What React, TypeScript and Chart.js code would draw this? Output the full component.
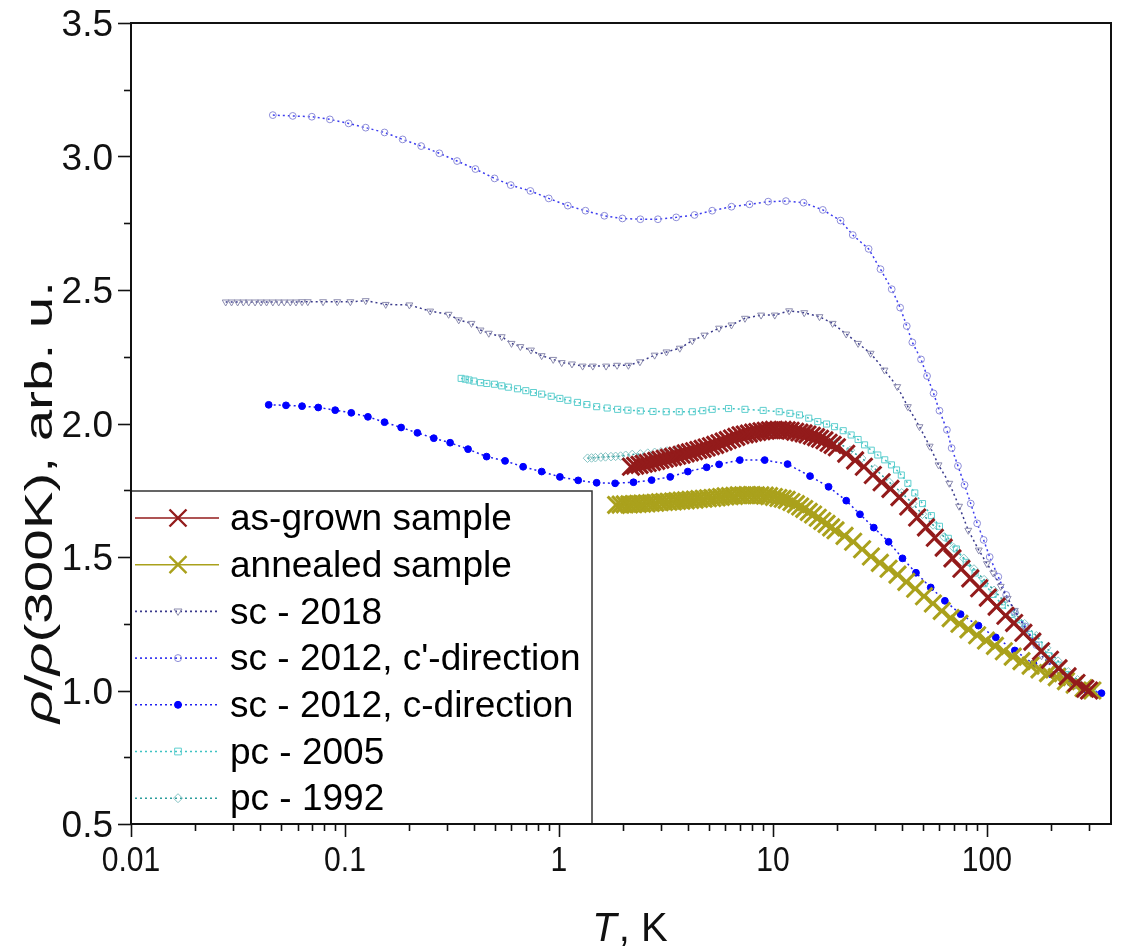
import React, { useEffect, useRef } from 'react';
import { Chart, registerables } from 'chart.js';

Chart.register(...registerables);

// ---------- axis ticks ----------
const xTickValues = [0.01, 0.1, 1, 10, 100];
const xTickLabels = ['0.01', '0.1', '1', '10', '100'];
const yTickValues = [0.5, 1.0, 1.5, 2.0, 2.5, 3.0, 3.5];
const yTickLabels = ['0.5', '1.0', '1.5', '2.0', '2.5', '3.0', '3.5'];

// ---------- series: as-grown sample ----------
const asGrownT = [2.17, 2.27, 2.38, 2.49, 2.6, 2.72, 2.85, 2.98, 3.12, 3.26, 3.41, 3.57, 3.74, 3.91, 4.09, 4.28, 4.48, 4.69, 4.9, 5.13, 5.37, 5.62, 5.88, 6.15, 6.44, 6.74, 7.05, 7.38, 7.72, 8.08, 8.45, 8.84, 9.25, 9.68, 10.1, 10.6, 11.1, 11.6, 12.1, 12.7, 13.3, 13.9, 14.5, 15.2, 15.9, 16.6, 17.4, 18.2, 19.0, 19.9, 22, 24.2, 26.6, 29.3, 32.2, 35.4, 39, 42.9, 47.2, 51.9, 57.1, 62.8, 69, 76, 83.6, 92, 101, 111, 122, 134, 148, 163, 179, 197, 216, 238, 262, 288, 300];
const asGrownRho = [1.838, 1.842, 1.845, 1.849, 1.852, 1.856, 1.86, 1.864, 1.868, 1.872, 1.875, 1.879, 1.883, 1.888, 1.892, 1.896, 1.901, 1.905, 1.91, 1.915, 1.92, 1.926, 1.932, 1.938, 1.944, 1.95, 1.956, 1.959, 1.962, 1.966, 1.968, 1.971, 1.973, 1.975, 1.976, 1.976, 1.976, 1.975, 1.973, 1.969, 1.966, 1.963, 1.959, 1.954, 1.949, 1.943, 1.937, 1.928, 1.92, 1.911, 1.887, 1.862, 1.838, 1.807, 1.78, 1.755, 1.724, 1.689, 1.648, 1.611, 1.572, 1.535, 1.495, 1.456, 1.42, 1.383, 1.348, 1.314, 1.28, 1.253, 1.216, 1.183, 1.147, 1.115, 1.083, 1.053, 1.028, 1.007, 1.0];

// ---------- series: annealed sample ----------
const annealedT = [1.85, 1.94, 2.03, 2.13, 2.23, 2.34, 2.45, 2.57, 2.69, 2.82, 2.96, 3.1, 3.25, 3.41, 3.57, 3.74, 3.92, 4.11, 4.31, 4.52, 4.74, 4.97, 5.21, 5.46, 5.72, 6.0, 6.29, 6.59, 6.91, 7.24, 7.59, 7.96, 8.34, 8.74, 9.16, 9.6, 10.1, 10.6, 11.1, 11.6, 12.2, 12.8, 13.4, 14.0, 14.7, 15.4, 16.2, 17.0, 17.8, 18.7, 19.6, 21.6, 23.7, 26.1, 28.7, 31.6, 34.7, 38.2, 42, 46.2, 50.8, 55.9, 61.5, 67.7, 74.4, 81.9, 90, 99, 109, 120, 132, 145, 160, 176, 193, 212, 234, 257, 283, 311];
const annealedRho = [1.695, 1.696, 1.697, 1.697, 1.698, 1.699, 1.7, 1.701, 1.702, 1.703, 1.705, 1.706, 1.707, 1.708, 1.71, 1.711, 1.712, 1.714, 1.715, 1.717, 1.718, 1.72, 1.721, 1.723, 1.725, 1.727, 1.728, 1.729, 1.731, 1.731, 1.732, 1.732, 1.731, 1.731, 1.73, 1.728, 1.725, 1.721, 1.718, 1.714, 1.706, 1.698, 1.689, 1.68, 1.669, 1.659, 1.647, 1.635, 1.624, 1.611, 1.6, 1.579, 1.557, 1.529, 1.502, 1.478, 1.456, 1.434, 1.407, 1.381, 1.353, 1.326, 1.298, 1.271, 1.25, 1.229, 1.207, 1.187, 1.167, 1.147, 1.127, 1.11, 1.093, 1.079, 1.065, 1.05, 1.035, 1.022, 1.009, 1.0];

// ---------- series: sc - 2018 ----------
const sc2018T = [0.0277, 0.0295, 0.0315, 0.0335, 0.0355, 0.038, 0.0405, 0.043, 0.046, 0.049, 0.052, 0.0555, 0.059, 0.063, 0.067, 0.079, 0.092, 0.106, 0.125, 0.155, 0.2, 0.25, 0.305, 0.34, 0.39, 0.43, 0.47, 0.54, 0.6, 0.66, 0.74, 0.83, 0.94, 1.03, 1.15, 1.29, 1.44, 1.66, 1.87, 2.11, 2.39, 2.8, 3.18, 3.67, 4.2, 4.78, 5.6, 6.4, 7.4, 8.8, 10.2, 11.9, 14, 16.5, 19, 22, 25, 28.6, 33.2, 38.1, 42.7, 48.4, 54, 59.4, 66.7, 74.1, 81.8, 91.6, 100, 107, 116, 125, 135, 153, 180, 220, 260, 300];
const sc2018Rho = [2.455, 2.455, 2.455, 2.455, 2.455, 2.455, 2.455, 2.455, 2.455, 2.455, 2.455, 2.455, 2.455, 2.456, 2.456, 2.456, 2.456, 2.456, 2.46, 2.446, 2.444, 2.421, 2.409, 2.388, 2.375, 2.35, 2.338, 2.325, 2.3, 2.288, 2.275, 2.254, 2.24, 2.228, 2.223, 2.215, 2.215, 2.215, 2.218, 2.218, 2.231, 2.256, 2.268, 2.282, 2.31, 2.331, 2.357, 2.369, 2.394, 2.406, 2.406, 2.422, 2.415, 2.4, 2.375, 2.335, 2.3, 2.263, 2.2, 2.138, 2.063, 1.988, 1.915, 1.845, 1.776, 1.69, 1.6, 1.526, 1.475, 1.44, 1.39, 1.345, 1.3, 1.225, 1.13, 1.06, 1.02, 1.0];

// ---------- series: sc - 2012, c'-direction ----------
const sc2012cpT = [0.046, 0.057, 0.07, 0.085, 0.104, 0.125, 0.153, 0.186, 0.227, 0.276, 0.334, 0.407, 0.5, 0.595, 0.735, 0.896, 1.1, 1.33, 1.63, 1.98, 2.4, 2.9, 3.53, 4.3, 5.2, 6.4, 7.77, 9.5, 11.5, 13.9, 17.1, 20.7, 23.6, 28.0, 31.8, 35.9, 39.3, 42.2, 44.8, 49.2, 52.5, 56.3, 60, 65, 68.4, 73.2, 78.6, 84, 90, 96.5, 103, 113, 123, 135, 151, 170, 195, 225, 260, 300];
const sc2012cpRho = [3.155, 3.152, 3.149, 3.139, 3.124, 3.108, 3.09, 3.064, 3.039, 3.012, 2.983, 2.953, 2.918, 2.893, 2.871, 2.843, 2.816, 2.797, 2.778, 2.768, 2.765, 2.765, 2.772, 2.781, 2.797, 2.812, 2.821, 2.831, 2.833, 2.827, 2.8, 2.76, 2.706, 2.654, 2.578, 2.503, 2.434, 2.365, 2.304, 2.24, 2.178, 2.113, 2.048, 1.976, 1.908, 1.841, 1.77, 1.7, 1.626, 1.564, 1.5, 1.426, 1.358, 1.295, 1.24, 1.17, 1.11, 1.06, 1.025, 1.0];

// ---------- series: sc - 2012, c-direction ----------
const sc2012cT = [0.044, 0.053, 0.063, 0.075, 0.09, 0.107, 0.128, 0.153, 0.183, 0.218, 0.26, 0.31, 0.376, 0.459, 0.56, 0.68, 0.83, 1.01, 1.23, 1.5, 1.83, 2.23, 2.71, 3.31, 4.0, 4.9, 5.6, 7.0, 9.15, 11.7, 14.9, 18.2, 22.0, 25.5, 29.6, 34.7, 40.3, 46.6, 54.6, 63.6, 75.3, 91.3, 110, 135, 165, 200, 245, 290, 343];
const sc2012cRho = [2.07, 2.068, 2.065, 2.06, 2.05, 2.04, 2.025, 2.005, 1.985, 1.965, 1.945, 1.928, 1.904, 1.876, 1.86, 1.838, 1.82, 1.8, 1.787, 1.778, 1.776, 1.78, 1.788, 1.8, 1.82, 1.836, 1.847, 1.863, 1.863, 1.848, 1.803, 1.763, 1.711, 1.66, 1.61, 1.557, 1.495, 1.441, 1.386, 1.336, 1.286, 1.243, 1.199, 1.15, 1.1, 1.06, 1.03, 1.005, 0.99];

// ---------- series: pc - 2005 ----------
const pc2005T = [0.349, 0.365, 0.38, 0.4, 0.43, 0.46, 0.5, 0.54, 0.58, 0.64, 0.7, 0.76, 0.83, 0.92, 1.01, 1.1, 1.22, 1.35, 1.5, 1.68, 1.88, 2.1, 2.4, 2.75, 3.17, 3.65, 4.2, 4.7, 5.2, 6.2, 7.4, 9, 10.7, 12, 13.3, 14.7, 16.2, 17.8, 19.4, 21.3, 23.2, 25, 26.8, 28.8, 30.9, 33.3, 35.8, 37.8, 39.8, 42.7, 46, 50, 55, 60, 66, 72, 80, 88, 97, 107, 118, 130, 143, 158, 175, 195, 215, 240, 265, 290, 310];
const pc2005Rho = [2.169, 2.166, 2.163, 2.159, 2.153, 2.15, 2.147, 2.141, 2.136, 2.13, 2.123, 2.116, 2.11, 2.102, 2.094, 2.087, 2.079, 2.071, 2.063, 2.058, 2.053, 2.05, 2.047, 2.045, 2.044, 2.044, 2.044, 2.048, 2.053, 2.056, 2.053, 2.049, 2.044, 2.038, 2.032, 2.02, 2.007, 1.998, 1.988, 1.973, 1.957, 1.94, 1.92, 1.9, 1.882, 1.864, 1.845, 1.826, 1.807, 1.776, 1.74, 1.7, 1.655, 1.615, 1.57, 1.53, 1.48, 1.44, 1.4, 1.36, 1.32, 1.285, 1.25, 1.21, 1.17, 1.13, 1.095, 1.06, 1.03, 1.01, 1.0];

// ---------- series: pc - 1992 ----------
const pc1992T = [1.36, 1.42, 1.48, 1.57, 1.65, 1.75, 1.84, 1.94, 2.05, 2.2, 2.4, 2.6, 2.8, 3.0, 3.2, 3.5, 3.8, 4.2, 4.6, 5.2, 6, 7, 8, 9, 10, 11.5, 13, 15, 17, 20, 23, 26, 30, 35, 40, 45, 50, 56, 63, 70, 78, 87, 97, 108, 120, 135, 150, 170, 190, 215, 240, 265, 290, 310];
const pc1992Rho = [1.87, 1.871, 1.872, 1.874, 1.875, 1.876, 1.877, 1.878, 1.881, 1.884, 1.886, 1.889, 1.892, 1.894, 1.897, 1.9, 1.903, 1.907, 1.911, 1.92, 1.935, 1.95, 1.96, 1.966, 1.97, 1.972, 1.97, 1.965, 1.952, 1.93, 1.9, 1.87, 1.83, 1.78, 1.74, 1.7, 1.66, 1.62, 1.575, 1.535, 1.495, 1.455, 1.415, 1.375, 1.335, 1.29, 1.25, 1.205, 1.16, 1.11, 1.07, 1.04, 1.015, 1.0];

const legendLabels = ['as-grown sample', 'annealed sample', 'sc - 2018', "sc - 2012, c'-direction", 'sc - 2012, c-direction', 'pc - 2005', 'pc - 1992'];

const FONT = "'Liberation Sans', Arial, Helvetica, sans-serif";

type Marker = 'crossRot' | 'circle' | 'triangleDown' | 'rect' | 'rectRot';

interface SeriesStyle {
  marker: Marker;
  lineColor: string;
  pointColor: string;
  fill: string;
  dash: number[];
  legendR: number;
  legendLW: number;
}

const styles: SeriesStyle[] = [
  { marker: 'crossRot', lineColor: '#931b1b', pointColor: '#931b1b', fill: 'transparent', dash: [], legendR: 12, legendLW: 2.4 },
  { marker: 'crossRot', lineColor: '#aaa11c', pointColor: '#aaa11c', fill: 'transparent', dash: [], legendR: 12, legendLW: 2.4 },
  { marker: 'triangleDown', lineColor: '#3a3a8c', pointColor: '#8c8cae', fill: 'transparent', dash: [2, 3], legendR: 4, legendLW: 1 },
  { marker: 'circle', lineColor: '#3c3cf0', pointColor: '#8e8ed8', fill: 'transparent', dash: [2, 3], legendR: 3.5, legendLW: 1 },
  { marker: 'circle', lineColor: '#2020f0', pointColor: '#0000ff', fill: '#0000ff', dash: [2, 3], legendR: 3.5, legendLW: 1 },
  { marker: 'rect', lineColor: '#3fc3c3', pointColor: '#5fcfcf', fill: 'transparent', dash: [2, 3], legendR: 4.5, legendLW: 1 },
  { marker: 'rectRot', lineColor: '#2c9c9c', pointColor: '#86c4c4', fill: 'transparent', dash: [2, 3], legendR: 4.5, legendLW: 1 },
];

function drawMarker(ctx: CanvasRenderingContext2D, m: Marker, x: number, y: number, r: number, stroke: string, fill: string, lw: number) {
  ctx.save();
  ctx.setLineDash([]);
  ctx.strokeStyle = stroke;
  ctx.fillStyle = fill;
  ctx.lineWidth = lw;
  ctx.beginPath();
  if (m === 'crossRot') {
    const d = r * Math.SQRT1_2;
    ctx.moveTo(x - d, y - d); ctx.lineTo(x + d, y + d);
    ctx.moveTo(x - d, y + d); ctx.lineTo(x + d, y - d);
    ctx.stroke();
  } else if (m === 'circle') {
    ctx.arc(x, y, r, 0, Math.PI * 2);
    if (fill !== 'transparent') ctx.fill();
    ctx.stroke();
  } else if (m === 'triangleDown') {
    ctx.moveTo(x - r, y - r * 0.6); ctx.lineTo(x + r, y - r * 0.6); ctx.lineTo(x, y + r); ctx.closePath();
    ctx.stroke();
  } else if (m === 'rect') {
    ctx.rect(x - r * 0.75, y - r * 0.75, r * 1.5, r * 1.5);
    ctx.stroke();
  } else {
    ctx.moveTo(x, y - r); ctx.lineTo(x + r, y); ctx.lineTo(x, y + r); ctx.lineTo(x - r, y); ctx.closePath();
    ctx.stroke();
  }
  ctx.restore();
}

const decorPlugin = {
  id: 'decor',
  afterDraw(chart: any) {
    const ctx: CanvasRenderingContext2D = chart.ctx;
    const { left, right, top, bottom } = chart.chartArea;
    const xs = chart.scales.x;
    const ys = chart.scales.y;
    ctx.save();

    // legend box
    const lx0 = left, ly0 = 491, lx1 = 592, ly1 = bottom;
    ctx.fillStyle = '#ffffff';
    ctx.fillRect(lx0, ly0, lx1 - lx0, ly1 - ly0);
    ctx.strokeStyle = '#333333';
    ctx.lineWidth = 1.5;
    ctx.strokeRect(lx0, ly0, lx1 - lx0, ly1 - ly0);
    ctx.font = `37px ${FONT}`;
    ctx.textBaseline = 'middle';
    ctx.textAlign = 'left';
    legendLabels.forEach((lab, i) => {
      const cy = 518 + i * 46.7;
      const st = styles[i];
      ctx.save();
      ctx.strokeStyle = st.lineColor;
      ctx.lineWidth = 1.6;
      ctx.setLineDash(st.dash);
      ctx.beginPath();
      ctx.moveTo(135, cy); ctx.lineTo(219, cy);
      ctx.stroke();
      ctx.restore();
      drawMarker(ctx, st.marker, 178, cy, st.legendR, st.pointColor, st.fill, st.legendLW);
      ctx.fillStyle = '#000000';
      ctx.fillText(lab, 230, cy + 2);
    });

    // frame
    ctx.strokeStyle = '#111111';
    ctx.lineWidth = 2;
    ctx.setLineDash([]);
    ctx.strokeRect(left, top, right - left, bottom - top);

    // y ticks
    ctx.lineWidth = 1.6;
    for (let v = 0.5; v <= 3.5001; v += 0.25) {
      const py = Math.round(ys.getPixelForValue(v)) + 0.5;
      const major = Math.abs(v * 2 - Math.round(v * 2)) < 1e-6;
      ctx.beginPath();
      ctx.moveTo(left - (major ? 13 : 7), py);
      ctx.lineTo(left, py);
      ctx.stroke();
    }
    ctx.fillStyle = '#111111';
    ctx.font = `37px ${FONT}`;
    ctx.textAlign = 'right';
    ctx.textBaseline = 'alphabetic';
    yTickValues.forEach((v, i) => {
      const py = ys.getPixelForValue(v);
      ctx.fillText(yTickLabels[i], left - 18, py + 13);
    });

    // x ticks
    for (let e = -2; e <= 2; e++) {
      for (let k = 1; k <= 9; k++) {
        const v = k * Math.pow(10, e);
        if (v > xs.max) break;
        const px = Math.round(xs.getPixelForValue(v)) + 0.5;
        ctx.beginPath();
        ctx.moveTo(px, bottom);
        ctx.lineTo(px, bottom + (k === 1 ? 13 : 7));
        ctx.stroke();
      }
    }
    ctx.font = `35px ${FONT}`;
    ctx.textAlign = 'center';
    xTickValues.forEach((v, i) => {
      const px = xs.getPixelForValue(v);
      ctx.save();
      ctx.translate(px, 871);
      ctx.scale(0.86, 1);
      ctx.fillText(xTickLabels[i], 0, 0);
      ctx.restore();
    });

    // x title
    const italic = `italic 40px ${FONT}`;
    const normal = `40px ${FONT}`;
    ctx.textAlign = 'left';
    ctx.font = italic;
    const wT = ctx.measureText('T').width;
    ctx.font = normal;
    const wRest = ctx.measureText(', K').width;
    const sx = 629 - (wT + wRest) / 2;
    ctx.font = italic;
    ctx.fillText('T', sx, 941);
    ctx.font = normal;
    ctx.fillText(', K', sx + wT + 2, 941);

    // y title
    const segs = [
      { t: 'ρ', it: true },
      { t: '/', it: false },
      { t: 'ρ', it: true },
      { t: '(300K), arb. u.', it: false },
    ];
    const yFontI = `italic 39px ${FONT}`;
    const yFontN = `39px ${FONT}`;
    let total = 0;
    const widths = segs.map((s) => {
      ctx.font = s.it ? yFontI : yFontN;
      const w = ctx.measureText(s.t).width;
      total += w;
      return w;
    });
    ctx.save();
    ctx.translate(52, 502);
    ctx.rotate(-Math.PI / 2);
    ctx.scale(1.45, 1);
    let cx = -total / 2;
    segs.forEach((s, i) => {
      ctx.font = s.it ? yFontI : yFontN;
      ctx.fillText(s.t, cx, 0);
      cx += widths[i];
    });
    ctx.restore();

    ctx.restore();
  },
};

function makeData(t: number[], r: number[]) {
  return t.map((x, i) => ({ x, y: r[i] }));
}

export default function App() {
  const canvasRef = useRef<HTMLCanvasElement | null>(null);

  useEffect(() => {
    if (!canvasRef.current) return;
    const series = [
      makeData(asGrownT, asGrownRho),
      makeData(annealedT, annealedRho),
      makeData(sc2018T, sc2018Rho),
      makeData(sc2012cpT, sc2012cpRho),
      makeData(sc2012cT, sc2012cRho),
      makeData(pc2005T, pc2005Rho),
      makeData(pc1992T, pc1992Rho),
    ];
    const pointStyleOf = (m: Marker) => (m === 'triangleDown' ? 'triangle' : m);
    const radii = [12, 12, 4, 3.4, 3.4, 4.3, 4.3];
    const widthsPt = [3, 3, 1, 1, 1, 1, 1];
    const datasets = series.map((d, i) => {
      const st = styles[i];
      return {
        label: legendLabels[i],
        data: d,
        showLine: true,
        borderColor: st.lineColor,
        borderWidth: 1.5,
        borderDash: st.dash,
        pointStyle: pointStyleOf(st.marker),
        rotation: st.marker === 'triangleDown' ? 180 : 0,
        pointRadius: radii[i],
        pointBorderColor: st.pointColor,
        pointBackgroundColor: st.fill === 'transparent' ? 'rgba(0,0,0,0)' : st.fill,
        pointBorderWidth: widthsPt[i],
        fill: false,
        tension: 0,
      };
    });
    const chart = new Chart(canvasRef.current, {
      type: 'scatter',
      data: { datasets } as any,
      options: {
        animation: false,
        responsive: false,
        devicePixelRatio: 1,
        layout: { padding: { left: 131, right: 3, top: 23, bottom: 125 } },
        plugins: { legend: { display: false }, tooltip: { enabled: false } },
        scales: {
          x: { type: 'logarithmic', min: 0.01, max: 380, display: false },
          y: { type: 'linear', min: 0.5, max: 3.5, display: false },
        },
      } as any,
      plugins: [decorPlugin],
    });
    return () => chart.destroy();
  }, []);

  return (
    <div style={{ position: 'fixed', left: 0, top: 0, width: 1126, height: 949, background: '#ffffff' }}>
      <canvas ref={canvasRef} width={1126} height={949} style={{ width: 1126, height: 949, display: 'block' }} />
    </div>
  );
}
